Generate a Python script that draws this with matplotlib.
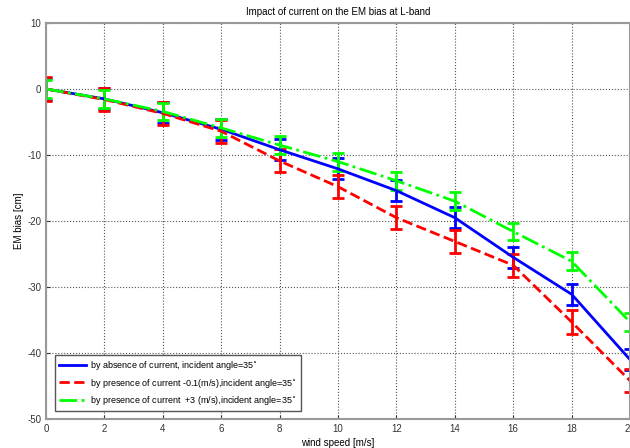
import numpy as np
import matplotlib
matplotlib.use('Agg')
import matplotlib.pyplot as plt
from matplotlib.lines import Line2D

plt.rcParams['font.family'] = ['Liberation Sans', 'DejaVu Sans']
plt.rcParams['axes.unicode_minus'] = False

wind = [0, 2, 4, 6, 8, 10, 12, 14, 16, 18, 20]
bias_absent = [0, -1.5, -3.6, -6.1, -9.2, -12.1, -15.4, -19.5, -25.5, -31.1, -41.0]
bias_neg = [0, -1.6, -3.7, -6.4, -10.9, -14.8, -19.5, -23.1, -26.7, -35.3, -44.2]
bias_pos = [0, -1.5, -3.4, -5.9, -8.5, -11.0, -13.9, -17.0, -21.6, -26.1, -35.3]
err_absent = [1.6] * 11
err_neg = [1.75] * 11
err_pos = [1.35] * 11

labels = ['by absence of current, incident angle=35$^{\\circ}$',
          'by presence of current -0.1(m/s),incident angle=35$^{\\circ}$',
          'by presence of current  +3 (m/s),incident angle=35$^{\\circ}$']
colors = ['#0000ff', '#ff0000', '#00ff00']
styles = ['-', '--', '-.']

fig = plt.figure(figsize=(6.3, 4.48), dpi=100)
ax = fig.add_axes([46 / 630, 29 / 448, 584 / 630, 396 / 448])

series = [(bias_absent, err_absent), (bias_neg, err_neg), (bias_pos, err_pos)]
for (vals, errs), c, ls in zip(series, colors, styles):
    ax.errorbar(wind, vals, yerr=errs, color=c, ls=ls, lw=2,
                capsize=4, capthick=2, elinewidth=2)

ax.set_xlim(0, 20)
ax.set_ylim(-50, 10)
ax.set_xticks(np.arange(0, 21, 2))
ax.set_yticks(np.arange(-50, 11, 10))
ax.grid(True, ls=':', color='#555555', lw=0.8)
ax.tick_params(direction='in', labelsize=7, colors='#333333', length=3)
for s in ax.spines.values():
    s.set_color('#999999')
    s.set_linewidth(1.5)

ax.set_title('Impact of current on the EM bias at L-band', fontsize=7, pad=6)
ax.set_xlabel('wind speed [m/s]', fontsize=7, labelpad=3)
ax.set_ylabel('EM bias [cm]', fontsize=7, labelpad=2)

handles = [Line2D([], [], color=c, ls=ls, lw=2) for c, ls in zip(colors, styles)]
leg = ax.legend(handles, labels, loc='lower left', bbox_to_anchor=(0.016, 0.02),
                borderaxespad=0, fontsize=6.5, fancybox=False, edgecolor='#555555',
                framealpha=1, handlelength=3.0, handletextpad=0.4,
                borderpad=0.45, labelspacing=0.5)
leg.get_frame().set_linewidth(1)

fig.savefig('out.png', dpi=100)
